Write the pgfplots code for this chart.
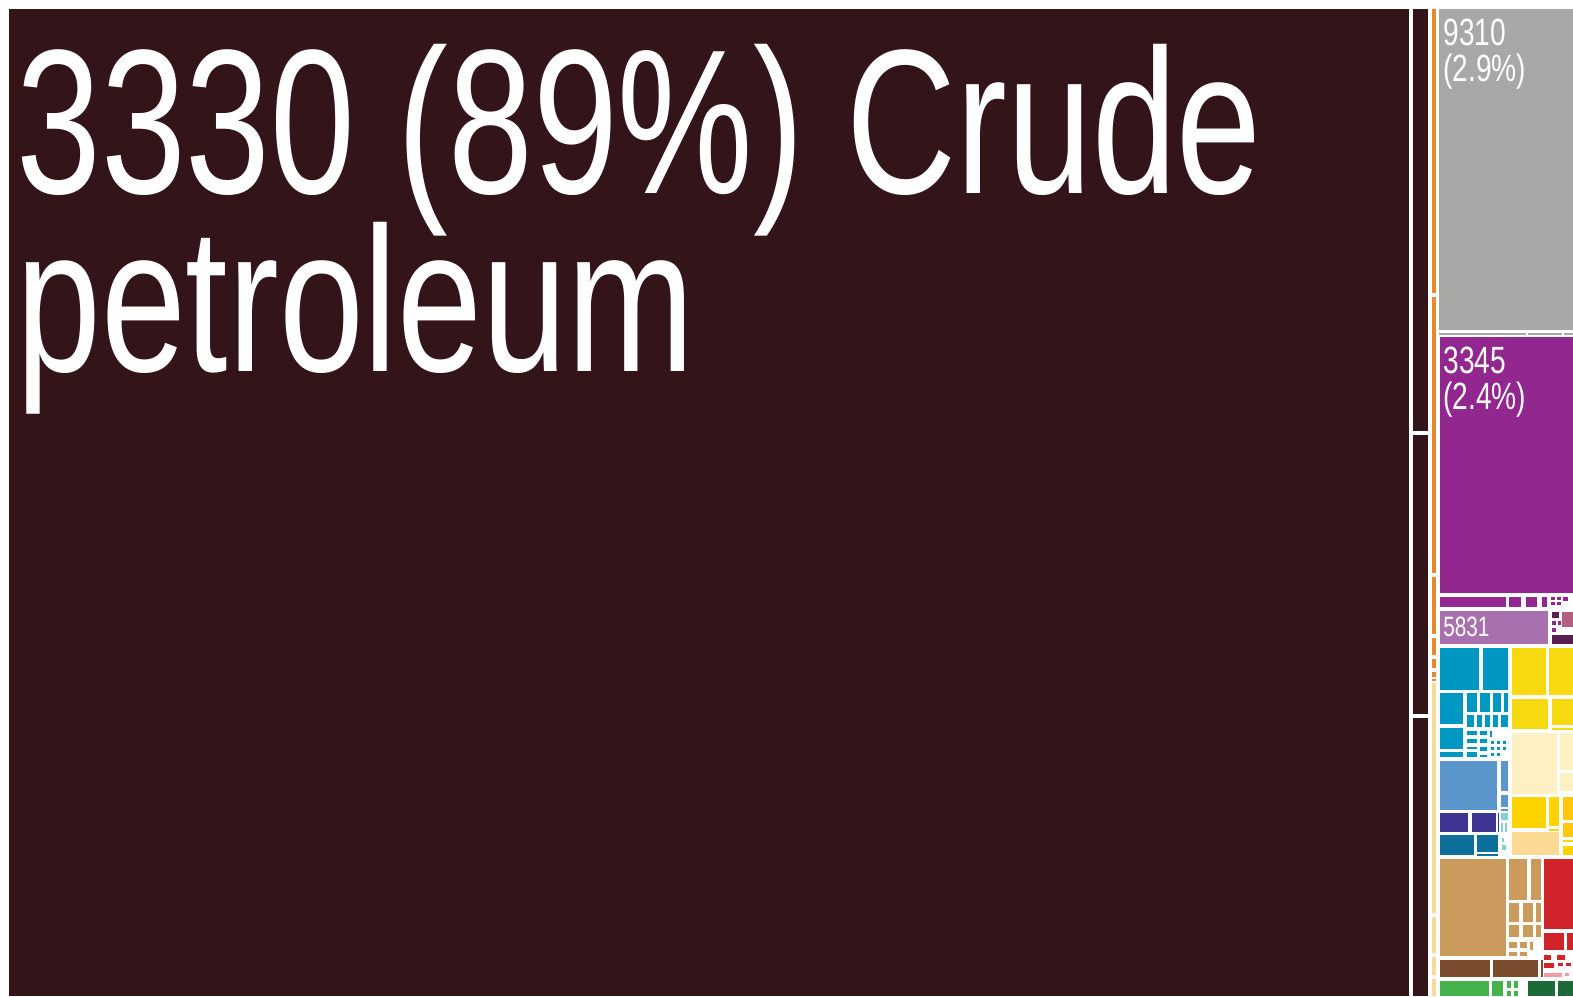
\documentclass[border=0pt]{standalone}
\usepackage{pgfplots}
\pgfplotsset{compat=1.18}
\usepackage{fontspec}
\setmainfont{Liberation Sans}
\newfontfamily\cond[FakeStretch=0.74]{Liberation Sans}
\definecolor{dark}{HTML}{331418}
\definecolor{grayc}{HTML}{A8A9A7}
\definecolor{orangec}{HTML}{E68A2E}
\definecolor{peach}{HTML}{FDD89A}
\definecolor{purplec}{HTML}{92278F}
\definecolor{lpurple}{HTML}{A870AE}
\definecolor{dpurple}{HTML}{5A1F52}
\definecolor{rose}{HTML}{B45E80}
\definecolor{bluec}{HTML}{0098C3}
\definecolor{lblue}{HTML}{5A96CC}
\definecolor{indigo}{HTML}{3E3592}
\definecolor{tealc}{HTML}{0C6F9A}
\definecolor{cyanc}{HTML}{7ED3DA}
\definecolor{yellowc}{HTML}{F6D90E}
\definecolor{cream}{HTML}{FDF0C2}
\definecolor{gold}{HTML}{FFD300}
\definecolor{ogold}{HTML}{FFC80F}
\definecolor{peachl}{HTML}{FDDA94}
\definecolor{tan}{HTML}{CB9B5E}
\definecolor{redc}{HTML}{D1232A}
\definecolor{pinkc}{HTML}{F29AAA}
\definecolor{brownc}{HTML}{7B4C2E}
\definecolor{greenc}{HTML}{45B14A}
\definecolor{dgreen}{HTML}{1C6A38}
\newcommand\R[5]{\addplot[fill=#1,draw=none,forget plot] coordinates {(#2,#3) (#4,#3) (#4,#5) (#2,#5)} --cycle;}
\begin{document}
\begin{tikzpicture}
\begin{axis}[scale only axis, width=786.5pt, height=498pt,
  xmin=0, xmax=1573, ymin=0, ymax=996, y dir=reverse, hide axis, clip=true]
\R{white}{0}{0}{1573}{996}
% main block
\R{dark}{9}{9}{1409}{996}
\R{dark}{1413}{9}{1428}{431}
\R{dark}{1413}{435}{1428}{714}
\R{dark}{1413}{718}{1428}{996}
% orange / peach strips
\R{orangec}{1432}{9}{1436}{293}
\R{orangec}{1432}{297}{1436}{573}
\R{orangec}{1432}{577}{1436}{634}
\R{orangec}{1432}{638}{1436}{655}
\R{orangec}{1432}{659}{1436}{668}
\R{orangec}{1432}{672}{1436}{677}
\R{orangec}{1432}{679}{1436}{681}
\R{peach}{1432}{683}{1436}{913}
\R{peach}{1432}{917}{1436}{953}
\R{peach}{1432}{957}{1436}{975}
\R{peach}{1432}{979}{1436}{996}
% gray
\R{grayc}{1439}{9}{1573}{330}
\R{grayc}{1439}{333}{1526}{335}
\R{grayc}{1528}{333}{1562}{335}
\R{grayc}{1564}{333}{1573}{335}
% purple
\R{purplec}{1440}{337}{1573}{593}
\R{purplec}{1440}{597}{1506}{607}
\R{purplec}{1509}{597}{1521}{607}
\R{purplec}{1526}{597}{1537}{607}
\R{purplec}{1542}{597}{1547}{607}
\R{purplec}{1551}{597}{1555}{600}
\R{purplec}{1557}{597}{1561}{600}
\R{purplec}{1551}{602}{1555}{605}
\R{purplec}{1557}{602}{1561}{605}
\R{purplec}{1563}{597}{1568}{601}
\R{lpurple}{1440}{611}{1548}{644}
\R{dpurple}{1552}{612}{1559}{618}
\R{rose}{1562}{612}{1573}{627}
\R{dpurple}{1552}{635}{1573}{644}
\R{purplec}{1552}{621}{1556}{625}
\R{purplec}{1558}{621}{1561}{625}
\R{purplec}{1552}{628}{1556}{632}
% blue
\R{bluec}{1440}{648}{1479}{690}
\R{bluec}{1483}{648}{1508}{690}
\R{bluec}{1440}{693}{1463}{724}
\R{bluec}{1467}{693}{1477}{712}
\R{bluec}{1480}{693}{1490}{712}
\R{bluec}{1493}{693}{1501}{712}
\R{bluec}{1504}{693}{1508}{712}
\R{bluec}{1467}{715}{1474}{727}
\R{bluec}{1477}{715}{1482}{727}
\R{bluec}{1485}{715}{1490}{727}
\R{bluec}{1493}{715}{1498}{727}
\R{bluec}{1501}{715}{1508}{727}
\R{bluec}{1440}{728}{1463}{749}
\R{bluec}{1440}{752}{1463}{757}
\R{bluec}{1467}{731}{1477}{735}
\R{bluec}{1480}{731}{1487}{735}
\R{bluec}{1490}{731}{1492}{737}
\R{bluec}{1467}{739}{1477}{743}
\R{bluec}{1480}{739}{1487}{743}
\R{bluec}{1467}{747}{1477}{749}
\R{bluec}{1480}{747}{1487}{751}
\R{bluec}{1467}{752}{1477}{757}
\R{bluec}{1480}{755}{1487}{757}
\R{bluec}{1491}{741}{1494}{744}
\R{bluec}{1497}{741}{1500}{744}
\R{bluec}{1503}{741}{1506}{744}
\R{bluec}{1491}{747}{1494}{750}
\R{bluec}{1497}{747}{1500}{750}
\R{bluec}{1503}{747}{1506}{750}
\R{bluec}{1491}{753}{1494}{756}
\R{bluec}{1497}{753}{1500}{756}
\R{lblue}{1440}{761}{1497}{810}
\R{lblue}{1501}{761}{1508}{791}
\R{lblue}{1501}{795}{1508}{807}
\R{lblue}{1501}{809}{1508}{811}
\R{indigo}{1440}{813}{1468}{832}
\R{indigo}{1472}{813}{1496}{832}
\R{indigo}{1498}{813}{1499}{832}
\R{cyanc}{1501}{813}{1508}{820}
\R{cyanc}{1501}{823}{1503}{832}
\R{cyanc}{1505}{823}{1507}{832}
\R{tealc}{1440}{835}{1474}{855}
\R{tealc}{1477}{835}{1498}{852}
\R{tealc}{1477}{854}{1498}{856}
\R{cyanc}{1502}{845}{1506}{850}
\R{cyanc}{1502}{838}{1504}{842}
% yellow / cream / gold
\R{yellowc}{1512}{648}{1546}{695}
\R{yellowc}{1549}{648}{1573}{695}
\R{yellowc}{1512}{699}{1548}{729}
\R{yellowc}{1552}{699}{1573}{725}
\R{yellowc}{1552}{728}{1573}{730}
\R{cream}{1512}{733}{1557}{794}
\R{cream}{1560}{733}{1573}{770}
\R{cream}{1560}{773}{1573}{791}
\R{gold}{1512}{797}{1546}{828}
\R{gold}{1549}{797}{1559}{826}
\R{ogold}{1563}{797}{1573}{820}
\R{ogold}{1563}{823}{1573}{837}
\R{gold}{1549}{829}{1559}{831}
\R{peachl}{1512}{832}{1559}{855}
\R{gold}{1563}{840}{1573}{842}
\R{gold}{1563}{846}{1573}{855}
% tan
\R{tan}{1440}{859}{1506}{956}
\R{tan}{1509}{859}{1527}{900}
\R{tan}{1531}{859}{1541}{900}
\R{tan}{1509}{903}{1519}{922}
\R{tan}{1523}{903}{1533}{922}
\R{tan}{1536}{903}{1541}{922}
\R{tan}{1509}{925}{1519}{937}
\R{tan}{1523}{925}{1533}{937}
\R{tan}{1536}{925}{1541}{937}
\R{tan}{1509}{942}{1517}{948}
\R{tan}{1520}{942}{1527}{948}
\R{tan}{1530}{942}{1533}{950}
\R{tan}{1509}{952}{1517}{956}
\R{tan}{1520}{952}{1527}{956}
% red
\R{redc}{1544}{859}{1573}{929}
\R{redc}{1544}{933}{1564}{950}
\R{redc}{1567}{933}{1573}{950}
\R{redc}{1544}{955}{1551}{960}
\R{redc}{1557}{955}{1565}{960}
\R{redc}{1544}{963}{1554}{968}
\R{redc}{1558}{963}{1563}{966}
\R{redc}{1566}{963}{1571}{966}
\R{pinkc}{1544}{973}{1562}{977}
\R{pinkc}{1565}{973}{1569}{976}
% brown
\R{brownc}{1440}{960}{1490}{977}
\R{brownc}{1493}{960}{1538}{977}
\R{brownc}{1541}{960}{1543}{977}
% green
\R{greenc}{1440}{981}{1489}{996}
\R{greenc}{1492}{981}{1503}{996}
\R{greenc}{1507}{981}{1511}{988}
\R{greenc}{1514}{981}{1518}{988}
\R{greenc}{1507}{991}{1511}{996}
\R{greenc}{1514}{991}{1518}{996}
\R{dgreen}{1528}{981}{1555}{996}
\R{dgreen}{1558}{981}{1573}{996}
% labels (base anchor = baseline of last line)
\node[anchor=base west, inner sep=0, text=white, align=left, font={\cond\fontsize{103}{89}\selectfont\lineskiplimit=-200pt\lineskip=0pt}] at (axis cs:16,371) {3330 (89\%) Crude\\petroleum};
\node[anchor=base west, inner sep=0, text=white, align=left, font={\cond\fontsize{19}{18}\selectfont\lineskiplimit=-50pt\lineskip=0pt}] at (axis cs:1443,81) {9310\\(2.9\%)};
\node[anchor=base west, inner sep=0, text=white, align=left, font={\cond\fontsize{19}{18}\selectfont\lineskiplimit=-50pt\lineskip=0pt}] at (axis cs:1443,409) {3345\\(2.4\%)};
\node[anchor=base west, inner sep=0, text=white, font=\cond\fontsize{14}{14}\selectfont] at (axis cs:1443,636) {5831};
\end{axis}
\end{tikzpicture}
\end{document}
